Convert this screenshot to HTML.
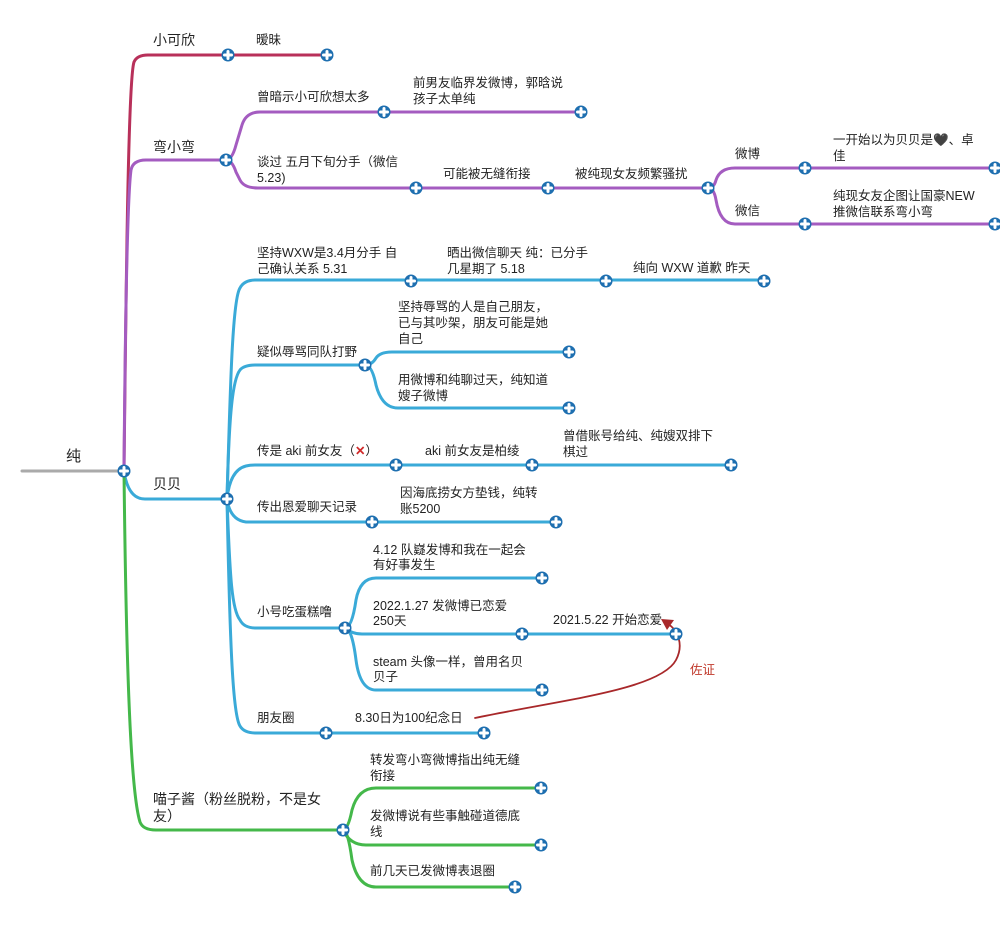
<!DOCTYPE html>
<html><head><meta charset="utf-8"><style>
html,body{margin:0;padding:0;background:#fff;width:1000px;height:944px;overflow:hidden}
svg{display:block}
text{font-family:"Liberation Sans","Noto Sans CJK SC",sans-serif;font-size:12.5px;fill:#222}
.r{stroke:#b8305a}.p{stroke:#a45cc0}.c{stroke:#3aaad8}.g{stroke:#44b84a}
path{fill:none;stroke-width:3;stroke-linecap:round}
</style></head><body>
<svg width="1000" height="944" viewBox="0 0 1000 944">
<defs>
<g id="n"><circle r="6.5" fill="#1e6fb0"/><path d="M-3.5 0H3.5M0 -3.5V3.5" stroke="#fff" stroke-width="1.6" fill="none"/></g>
</defs>
<!-- root -->
<path d="M22 471H122" style="stroke:#aaa"/>
<text x="66" y="461" style="font-size:15px">纯</text>
<!-- red -->
<path class="r" d="M124 471 C126 300,128 80,134 62 Q137 55,148 55 L327 55"/>
<!-- purple -->
<path class="p" d="M124 471 C125 350,127 200,131 170 Q133 160,146 160 L226 160"/>
<path class="p" d="M226 160 Q232 160,236 145 L242 125 Q246 112,260 112 L581 112"/>
<path class="p" d="M226 160 Q232 160,236 172 L240 180 Q244 188,258 188 L708 188"/>
<path class="p" d="M708 188 Q714 188,716 180 Q720 168,735 168 L995 168"/>
<path class="p" d="M708 188 Q714 188,716 200 Q720 224,735 224 L995 224"/>
<!-- cyan -->
<path class="c" d="M124 471 Q128 499,145 499 L227 499"/>
<path class="c" d="M227 499 C230 400,232 300,240 288 Q244 280,256 280 L764 280"/>
<path class="c" d="M227 499 C229 420,232 380,240 370 Q244 365,256 365 L365 365"/>
<path class="c" d="M365 365 Q372 365,376 358 Q380 352,392 352 L569 352"/>
<path class="c" d="M365 365 Q372 365,376 385 Q382 408,398 408 L569 408"/>
<path class="c" d="M227 499 Q230 470,246 466 Q250 465,256 465 L731 465"/>
<path class="c" d="M227 499 Q230 520,246 522 L556 522"/>
<path class="c" d="M227 499 C230 580,232 610,240 620 Q244 628,256 628 L345 628"/>
<path class="c" d="M345 628 Q352 628,356 600 Q360 578,376 578 L542 578"/>
<path class="c" d="M345 628 Q352 634,362 634 L676 634"/>
<path class="c" d="M345 628 Q352 628,356 660 Q360 690,376 690 L542 690"/>
<path class="c" d="M227 499 C230 650,233 715,240 726 Q244 733,256 733 L484 733"/>
<!-- green -->
<path class="g" d="M124 471 C126 650,130 790,140 822 Q143 830,156 830 L343 830"/>
<path class="g" d="M343 830 Q348 830,352 810 Q358 788,376 788 L541 788"/>
<path class="g" d="M343 830 Q350 845,366 845 L541 845"/>
<path class="g" d="M343 830 Q348 830,352 860 Q358 887,376 887 L515 887"/>
<!-- red arrow -->
<path d="M475 718 C560 700,660 690,676 660 C684 645,678 630,668 624" style="stroke:#a8282a;stroke-width:1.8"/>
<path d="M661 619 L674 620 L667 630 Z" style="fill:#a8282a;stroke:none"/>
<text x="690" y="674" style="fill:#c0392b">佐证</text>
<!-- nodes -->
<use href="#n" x="124" y="471"/><use href="#n" x="228" y="55"/><use href="#n" x="327" y="55"/>
<use href="#n" x="226" y="160"/><use href="#n" x="384" y="112"/><use href="#n" x="581" y="112"/>
<use href="#n" x="416" y="188"/><use href="#n" x="548" y="188"/><use href="#n" x="708" y="188"/>
<use href="#n" x="805" y="168"/><use href="#n" x="995" y="168"/><use href="#n" x="805" y="224"/><use href="#n" x="995" y="224"/>
<use href="#n" x="227" y="499"/>
<use href="#n" x="411" y="281"/><use href="#n" x="606" y="281"/><use href="#n" x="764" y="281"/>
<use href="#n" x="365" y="365"/><use href="#n" x="569" y="352"/><use href="#n" x="569" y="408"/>
<use href="#n" x="396" y="465"/><use href="#n" x="532" y="465"/><use href="#n" x="731" y="465"/>
<use href="#n" x="372" y="522"/><use href="#n" x="556" y="522"/>
<use href="#n" x="345" y="628"/><use href="#n" x="542" y="578"/><use href="#n" x="522" y="634"/><use href="#n" x="676" y="634"/><use href="#n" x="542" y="690"/>
<use href="#n" x="326" y="733"/><use href="#n" x="484" y="733"/>
<use href="#n" x="343" y="830"/><use href="#n" x="541" y="788"/><use href="#n" x="541" y="845"/><use href="#n" x="515" y="887"/>
<!-- texts -->
<text x="153" y="45" style="font-size:14px">小可欣</text>
<text x="256" y="44">暧昧</text>
<text x="153" y="152" style="font-size:14px">弯小弯</text>
<text x="257" y="101">曾暗示小可欣想太多</text>
<text x="413" y="87">前男友临界发微博，郭晗说</text><text x="413" y="103">孩子太单纯</text>
<text x="257" y="166">谈过 五月下旬分手（微信</text><text x="257" y="182">5.23)</text>
<text x="443" y="178">可能被无缝衔接</text>
<text x="575" y="178">被纯现女友频繁骚扰</text>
<text x="735" y="158">微博</text><text x="735" y="215">微信</text>
<text x="833" y="144">一开始以为贝贝是🖤、卓</text><text x="833" y="160">佳</text>
<text x="833" y="200">纯现女友企图让国豪NEW</text><text x="833" y="216">推微信联系弯小弯</text>
<text x="153" y="489" style="font-size:14px">贝贝</text>
<text x="257" y="257">坚持WXW是3.4月分手 自</text><text x="257" y="273">己确认关系 5.31</text>
<text x="447" y="257">晒出微信聊天 纯：已分手</text><text x="447" y="273">几星期了 5.18</text>
<text x="633" y="272">纯向 WXW 道歉 昨天</text>
<text x="257" y="356">疑似辱骂同队打野</text>
<text x="398" y="311">坚持辱骂的人是自己朋友，</text><text x="398" y="327">已与其吵架，朋友可能是她</text><text x="398" y="343">自己</text>
<text x="398" y="384">用微博和纯聊过天，纯知道</text><text x="398" y="400">嫂子微博</text>
<text x="257" y="455">传是 aki 前女友（<tspan style="fill:#d02a2a;font-weight:bold">✕</tspan>）</text>
<text x="425" y="455">aki 前女友是柏绫</text>
<text x="563" y="440">曾借账号给纯、纯嫂双排下</text><text x="563" y="456">棋过</text>
<text x="257" y="511">传出恩爱聊天记录</text>
<text x="400" y="497">因海底捞女方垫钱，纯转</text><text x="400" y="513">账5200</text>
<text x="257" y="616">小号吃蛋糕噜</text>
<text x="373" y="554">4.12 队嶷发博和我在一起会</text><text x="373" y="569">有好事发生</text>
<text x="373" y="610">2022.1.27 发微博已恋爱</text><text x="373" y="625">250天</text>
<text x="553" y="624">2021.5.22 开始恋爱</text>
<text x="373" y="666">steam 头像一样，曾用名贝</text><text x="373" y="681">贝子</text>
<text x="257" y="722">朋友圈</text>
<text x="355" y="722">8.30日为100纪念日</text>
<text x="153" y="804" style="font-size:14px">喵子酱（粉丝脱粉，不是女</text><text x="153" y="821" style="font-size:14px">友）</text>
<text x="370" y="764">转发弯小弯微博指出纯无缝</text><text x="370" y="780">衔接</text>
<text x="370" y="820">发微博说有些事触碰道德底</text><text x="370" y="836">线</text>
<text x="370" y="875">前几天已发微博表退圈</text>
</svg>
</body></html>
